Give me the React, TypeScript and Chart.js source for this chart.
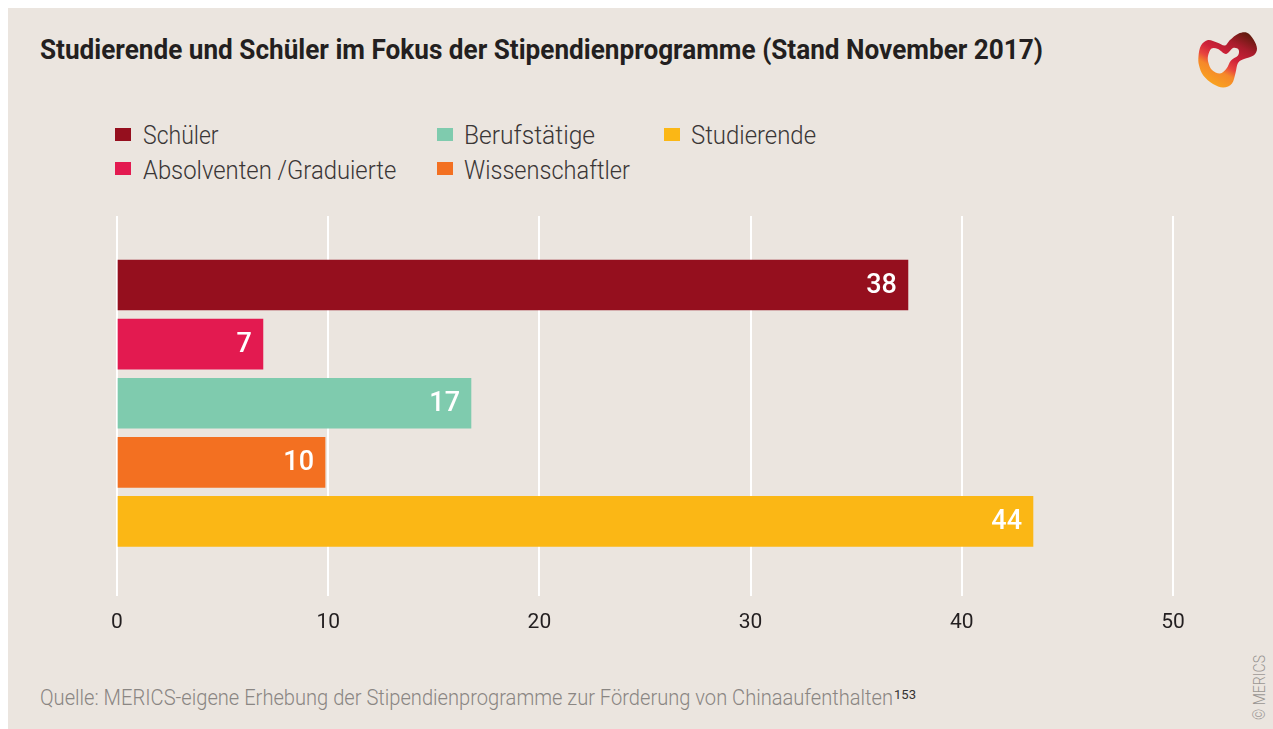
import React, { useEffect, useRef } from "react";
import { Chart, registerables } from "chart.js";

Chart.register(...registerables);

// ---- data ----
const categories = ["Schüler", "Absolventen /Graduierte", "Berufstätige", "Wissenschaftler", "Studierende"];
// bar lengths as drawn in the picture
const barLengths = [37.45, 6.91, 16.76, 9.85, 43.37];
// value labels printed on the bars
const valueLabels = [38, 7, 17, 10, 44];
const barColors = ["#950f1e", "#e31a50", "#7fcbae", "#f37021", "#fbb715"];
const xTicks = [0, 10, 20, 30, 40, 50];

const TITLE = "Studierende und Schüler im Fokus der Stipendienprogramme (Stand November 2017)";
const SOURCE = "Quelle: MERICS-eigene Erhebung der Stipendienprogramme zur Förderung von Chinaaufenthalten";
const SOURCE_NOTE = "153";
const COPYRIGHT = "© MERICS";

// legend layout: [category index, column, row]
const legendOrder = [
  [0, 0, 0],
  [1, 0, 1],
  [2, 1, 0],
  [3, 1, 1],
  [4, 2, 0],
];

const BG = "#ebe5df";
const FAMILY = "Roboto, 'Noto Sans', sans-serif";

let measureCtx: CanvasRenderingContext2D | null = null;
function textWidth(text: string, font: string): number {
  if (!measureCtx) measureCtx = document.createElement("canvas").getContext("2d");
  measureCtx!.font = font;
  return measureCtx!.measureText(text).width;
}

function Label(props: {
  x: number;
  baseline: number;
  size: number;
  weight: number;
  color: string;
  text: string;
  width?: number;
}) {
  const { x, baseline, size, weight, color, text, width } = props;
  const font = `${weight} ${size}px Roboto`;
  const natural = textWidth(text, font);
  const sx = width ? width / natural : 1;
  return (
    <div
      style={{
        position: "absolute",
        left: x,
        top: baseline - 0.842 * size,
        fontFamily: FAMILY,
        fontWeight: weight,
        fontSize: size,
        lineHeight: `${size}px`,
        color,
        whiteSpace: "nowrap",
        transform: `scaleX(${sx})`,
        transformOrigin: "0 0",
      }}
    >
      {text}
    </div>
  );
}

// smooth closed path through points (Catmull-Rom -> Bezier)
function smoothPath(pts: number[][]): string {
  const n = pts.length;
  let d = `M${pts[0][0]},${pts[0][1]}`;
  for (let i = 0; i < n; i++) {
    const p0 = pts[(i - 1 + n) % n];
    const p1 = pts[i];
    const p2 = pts[(i + 1) % n];
    const p3 = pts[(i + 2) % n];
    const c1x = p1[0] + (p2[0] - p0[0]) / 6;
    const c1y = p1[1] + (p2[1] - p0[1]) / 6;
    const c2x = p2[0] - (p3[0] - p1[0]) / 6;
    const c2y = p2[1] - (p3[1] - p1[1]) / 6;
    d += ` C${c1x.toFixed(2)},${c1y.toFixed(2)} ${c2x.toFixed(2)},${c2y.toFixed(2)} ${p2[0]},${p2[1]}`;
  }
  return d + " Z";
}

const logoOuter = [
  [2.5, 26], [5, 15.5], [12, 10], [21, 12.5], [29, 15.5], [34, 10], [42.3, 3.7],
  [51, 2.7], [57.5, 9.5], [61, 18.7], [57.5, 25.5], [48, 29], [42, 33],
  [39.5, 43], [36, 53.5], [27.3, 57.5], [17, 54], [7.3, 45.5], [3, 35.3],
];
const logoInner = [
  [12, 26], [15.5, 18.5], [22, 19], [30, 24], [37, 18], [42.5, 19.5], [42, 25.5],
  [35, 30.5], [30.5, 38.5], [24, 43.5], [16, 40], [12.5, 33],
];

function Logo() {
  return (
    <svg
      width={64}
      height={60}
      viewBox="0 0 64 60"
      style={{ position: "absolute", left: 1188, top: 22 }}
    >
      <defs>
        <linearGradient id="lg" x1="0.9" y1="0.05" x2="0.35" y2="1">
          <stop offset="0" stopColor="#5e1a0c" />
          <stop offset="0.25" stopColor="#a81c2c" />
          <stop offset="0.48" stopColor="#cf2139" />
          <stop offset="0.64" stopColor="#e8453f" />
          <stop offset="0.76" stopColor="#f5882a" />
          <stop offset="1" stopColor="#f9a21f" />
        </linearGradient>
      </defs>
      <path
        d={smoothPath(logoOuter) + " " + smoothPath(logoInner)}
        fill="url(#lg)"
        fillRule="evenodd"
      />
    </svg>
  );
}

const valueLabelPlugin = {
  id: "valueLabels",
  afterDatasetsDraw(chart: any) {
    const ctx = chart.ctx;
    const meta = chart.getDatasetMeta(0);
    ctx.save();
    ctx.font = "500 27px Roboto";
    ctx.fillStyle = "#ffffff";
    ctx.textAlign = "right";
    ctx.textBaseline = "middle";
    meta.data.forEach((bar: any, i: number) => {
      ctx.fillText(String(valueLabels[i]), bar.x - 11, bar.y + 1);
    });
    ctx.restore();
  },
};

function BarChart() {
  const ref = useRef<HTMLCanvasElement>(null);
  useEffect(() => {
    if (!ref.current) return;
    const chart = new Chart(ref.current, {
      type: "bar",
      data: {
        labels: categories,
        datasets: [
          {
            data: barLengths.map((v, i) => ({ x: v, y: i })) as any,
            backgroundColor: barColors,
            borderWidth: 0,
            barThickness: 50,
          },
        ],
      },
      options: {
        indexAxis: "y",
        animation: false,
        responsive: false,
        maintainAspectRatio: false,
        layout: { padding: { left: 109, right: 100, top: 18, bottom: 0.8 } },
        plugins: {
          legend: { display: false },
          tooltip: { enabled: false },
        },
        scales: {
          x: {
            type: "linear",
            min: xTicks[0],
            max: xTicks[xTicks.length - 1],
            afterBuildTicks: (scale: any) => {
              scale.ticks = xTicks.map((v) => ({ value: v }));
            },
            ticks: {
              padding: 14.5,
              color: "#231f20",
              font: { family: "Roboto", size: 21, weight: 400 },
            },
            grid: { color: "#ffffff", lineWidth: 2, drawTicks: false },
            border: { display: false },
          },
          y: {
            type: "linear",
            offset: false,
            min: -1.168,
            max: 5.262,
            reverse: true,
            display: false,
            grid: { display: false, offset: false },
          },
        },
      } as any,
      plugins: [valueLabelPlugin],
    });
    return () => chart.destroy();
  }, []);
  return (
    <canvas
      ref={ref}
      width={1265}
      height={453}
      style={{ position: "absolute", left: 0, top: 190, width: 1265, height: 453 }}
    />
  );
}

export default function App() {
  const colX = [107, 429, 656];
  const textX = [135, 456, 683];
  const rowBase = [136, 171];
  const rowSquareTop = [120.3, 154.3];
  const legendWidths = [75.6, 253.3, 131, 166, 125];
  return (
    <div
      style={{
        position: "absolute",
        left: 8,
        top: 8,
        right: 0,
        bottom: 0,
        background: BG,
        overflow: "hidden",
      }}
    >
      <Label x={32} baseline={52} size={27} weight={700} color="#231f20" text={TITLE} width={1003} />
      <Logo />
      {legendOrder.map(([ci, col, row]) => (
        <React.Fragment key={ci}>
          <div
            style={{
              position: "absolute",
              left: colX[col],
              top: rowSquareTop[row],
              width: 16,
              height: 12.5,
              background: barColors[ci],
            }}
          />
          <Label
            x={textX[col]}
            baseline={rowBase[row]}
            size={26}
            weight={300}
            color="#3a3636"
            text={categories[ci]}
            width={legendWidths[ci]}
          />
        </React.Fragment>
      ))}
      <BarChart />
      <Label x={32} baseline={698} size={22} weight={300} color="#8a8683" text={SOURCE} width={853} />
      <Label x={886} baseline={690.5} size={13} weight={400} color="#333333" text={SOURCE_NOTE} width={22} />
      <div
        style={{
          position: "absolute",
          left: 1244,
          top: 712,
          transform: "rotate(-90deg)",
          transformOrigin: "0 0",
          width: 0,
          height: 0,
        }}
      >
        <Label x={0} baseline={13} size={16} weight={300} color="#9a9693" text={COPYRIGHT} width={65} />
      </div>
    </div>
  );
}
